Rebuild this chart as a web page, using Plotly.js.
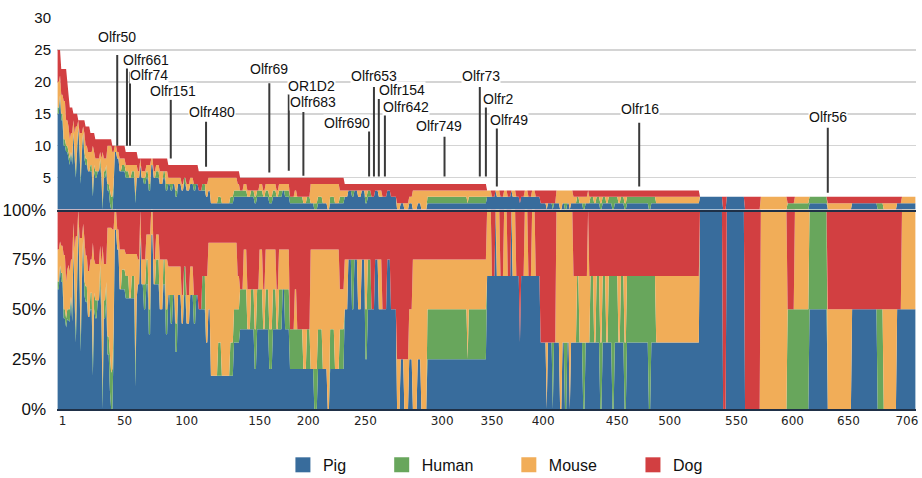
<!DOCTYPE html>
<html><head><meta charset="utf-8">
<script src="https://cdn.plot.ly/plotly-3.0.1.min.js"></script>
<style>html,body{margin:0;padding:0;background:#fff}#chart{width:922px;height:478px}</style>
</head><body><div id="chart"></div>
<script>
// Each segment starts at segStart[i] and runs until the next start (counts per species)
const segStart = [
  1,3,4,6,8,9,10,11,12,13,
  14,15,16,17,18,19,20,21,22,23,
  24,26,28,30,31,32,34,36,37,38,
  39,41,42,44,45,46,47,48,50,52,
  54,57,60,62,65,66,67,69,70,72,
  74,76,78,80,82,85,88,90,92,94,
  96,98,100,103,105,107,110,113,115,117,
  120,123,125,127,130,133,136,143,146,149,
  151,154,157,160,163,165,167,170,172,175,
  178,181,183,186,188,192,196,198,203,206,
  209,212,215,219,223,225,229,233,237,240,
  243,245,248,251,254,256,259,262,265,268,
  272,275,280,283,286,290,293,297,300,305,
  338,339,354,358,361,362,365,368,371,374,
  375,378,381,382,385,388,391,394,398,403,
  404,408,409,411,414,416,418,420,422,423,
  425,428,430,433,435,437,438,439,442,444,
  447,449,452,454,457,459,462,464,467,469,
  472,487,489,493,529,548,551,566,579,601,
  607,619,634,654,675,680,691,695];
const lastIndex = 706;
const pig = [
  15,18,14,10,9,9,8,7,9,7,
  12,8,5,9,13,9,4,9,12,8,
  7,6,6,2,6,5,6,7,5,0,
  5,6,3,1,0,0,3,9,8,6,
  6,5,5,5,1,5,5,7,5,4,
  5,3,7,5,5,4,5,3,4,3,
  4,2,4,3,4,3,4,3,4,3,
  3,2,3,1,1,1,1,1,2,2,
  2,2,2,2,1,2,2,2,2,1,
  2,2,2,3,2,1,1,1,1,1,
  1,0,1,1,0,1,1,1,2,3,
  2,3,2,3,1,2,2,3,2,2,
  3,2,0,1,0,1,0,1,0,1,
  1,1,2,2,3,2,2,2,2,3,
  2,2,1,2,2,2,2,2,1,0,
  1,0,1,1,0,1,0,1,0,1,
  1,1,1,0,1,1,1,1,1,1,
  0,1,1,1,0,1,1,1,0,1,
  1,0,1,1,2,0,2,0,0,0,
  0,1,0,1,0,0,1,1];
const human = [
  1,0,1,1,1,1,1,1,0,1,
  0,1,1,1,0,1,1,1,0,1,
  1,0,1,1,1,1,0,1,1,1,
  1,1,1,2,2,2,1,0,0,0,
  1,1,0,1,1,0,0,0,0,1,
  1,1,0,0,1,0,1,1,0,1,
  0,1,0,0,1,0,0,1,0,0,
  1,0,0,0,0,1,0,1,1,1,
  1,1,0,1,1,1,1,0,1,1,
  1,0,1,0,1,1,1,1,0,1,
  0,1,1,0,0,1,0,1,0,0,
  1,0,0,0,1,1,0,0,0,0,
  0,0,0,0,0,0,0,0,0,1,
  0,1,0,0,0,0,0,0,0,0,
  0,0,0,0,0,0,0,0,0,0,
  0,1,0,0,0,0,1,0,0,0,
  0,1,0,1,0,0,0,1,0,1,
  1,1,0,1,2,1,0,1,1,1,
  1,2,1,0,0,0,0,0,0,1,
  1,1,0,0,1,0,0,0];
const mouse = [
  4,3,3,6,4,4,4,3,3,4,
  2,3,7,3,1,2,7,2,1,3,
  2,3,2,7,2,2,2,1,2,8,
  2,1,6,7,8,7,5,1,1,2,
  1,1,2,1,5,2,1,1,1,1,
  1,3,1,1,1,2,0,2,1,1,
  1,2,1,1,0,1,1,0,0,0,
  0,2,2,4,4,3,4,3,2,1,
  0,1,1,0,1,0,1,1,1,2,
  1,1,1,1,1,0,1,0,1,0,
  3,3,2,3,4,2,3,1,1,0,
  0,0,1,0,1,0,0,0,1,0,
  0,0,1,0,1,1,3,2,3,1,
  2,1,1,0,0,1,0,1,0,0,
  1,0,0,0,1,0,1,0,0,1,
  0,0,0,2,3,2,2,2,3,2,
  1,0,1,1,1,2,1,0,1,0,
  1,0,1,0,0,0,1,0,1,0,
  0,0,0,1,0,0,0,0,2,0,
  1,0,1,0,0,1,0,1];
const dog = [
  5,4,4,5,8,6,5,5,4,4,
  1,3,2,2,0,2,2,2,1,2,
  3,4,3,2,3,3,3,2,3,2,
  3,3,1,1,1,1,1,0,1,2,
  2,2,2,2,2,2,2,0,2,2,
  1,1,0,2,1,2,2,2,2,2,
  2,2,2,3,2,3,2,3,3,3,
  2,2,1,1,1,1,1,1,1,2,
  2,1,2,2,2,2,1,2,1,1,
  1,2,1,1,1,3,2,3,3,3,
  1,1,1,1,1,1,1,2,1,1,
  1,1,1,1,1,1,2,1,1,2,
  1,2,3,3,3,2,1,1,1,1,
  1,1,0,1,0,0,1,0,1,0,
  0,1,2,1,0,1,0,1,2,2,
  2,2,2,0,0,0,0,0,0,0,
  1,1,1,1,1,0,1,1,1,1,
  1,1,1,1,1,1,1,1,1,1,
  1,1,1,1,0,2,0,2,0,1,
  0,0,1,1,1,1,1,0];
const seriesNames = ['Pig','Human','Mouse','Dog'];
const seriesColors = ['#386c9c','#68a65c','#f1ad58','#d23f41'];
const xTickPos = [5,56,107,167,207,254,317,358,400,461,504,559,605,651,699];
const xTickText = ['1','50','100','150','200','250','300','350','400','450','500','550','600','650','706'];
const countTicks = [5,10,15,20,25,30];
const pctTicks = [0,25,50,75,100];
const pctTickText = ['0%','25%','50%','75%','100%'];
// labelled genes: position on x, top of stack where its leader line ends
const geneNames = ['Olfr50','Olfr661','Olfr74','Olfr151','Olfr480','Olfr69','OR1D2','Olfr683','Olfr690','Olfr653','Olfr154','Olfr642','Olfr749','Olfr73','Olfr2','Olfr49','Olfr16','Olfr56'];
const geneX = [50,58,60.5,94,123,175,191,203,257,261,265,270,319,348,353,362,479,634];
const geneLineEnd = [10,10,10,8,6.7,5.8,6.1,5.3,5.2,5.2,5.2,5.2,5.2,5.2,5.2,3.6,3.6,2.65];
// label placement (layout only)
const labelPlace = [
  {lx:50,ly:27.0,top:24.2},{lx:73.6,ly:23.4,top:22.2},{lx:76.1,ly:21.0,top:21.6},{lx:95.8,ly:18.6,top:17.2},
  {lx:127.9,ly:15.3,top:13.75},{lx:174.8,ly:22.0,top:19.8},{lx:209.6,ly:19.4,top:18.1},{lx:211.3,ly:16.9,top:15.3},
  {lx:238.8,ly:13.6,top:12.7},{lx:261.1,ly:20.9,top:19.2},{lx:284.1,ly:18.75,top:17.3},{lx:287.4,ly:16.05,top:15.2},
  {lx:314.5,ly:13.1,top:11.4},{lx:348.6,ly:20.9,top:19.2},{lx:363.4,ly:17.3,top:16.1},{lx:371.6,ly:14.06,top:12.8},
  {lx:479.7,ly:15.8,top:13.6},{lx:634.3,ly:14.5,top:12.8}];
const legendX = [0.263,0.378,0.526,0.6705];

// run-length step data -> points at each segment's first and last index
const segEnd = segStart.map((s,i)=>(i+1<segStart.length ? segStart[i+1] : lastIndex+1) - 1);
const xs = [];
segStart.forEach((s,i)=>{ xs.push(s); if(segEnd[i]>s) xs.push(segEnd[i]); });
const expand = a => {
  const out=[];
  segStart.forEach((s,i)=>{ out.push(a[i]); if(segEnd[i]>s) out.push(a[i]); });
  return out;
};
const series = [pig, human, mouse, dog];
const traces = [];
series.forEach((s,i)=>{
  traces.push({type:'scatter',x:xs,y:expand(s),xaxis:'x2',yaxis:'y',stackgroup:'cnt',mode:'none',
    line:{shape:'linear',width:0},fillcolor:seriesColors[i],name:seriesNames[i],showlegend:false,hoverinfo:'skip'});
});
series.forEach((s,i)=>{
  const t={type:'scatter',x:xs,y:expand(s),xaxis:'x',yaxis:'y2',stackgroup:'pct',mode:'none',
    line:{shape:'linear',width:0},fillcolor:seriesColors[i],name:seriesNames[i],showlegend:false,hoverinfo:'skip'};
  if(i===0) t.groupnorm='percent';
  traces.push(t);
});
const legendIds = ['legend','legend2','legend3','legend4'];
series.forEach((s,i)=>{
  traces.push({type:'scatter',x:[null],y:[null],xaxis:'x',yaxis:'y2',mode:'markers',
    marker:{symbol:'square',size:15,color:seriesColors[i]},name:seriesNames[i],showlegend:true,legend:legendIds[i]});
});

const shapes = geneNames.map((g,i)=>({type:'line',xref:'x2',yref:'y',x0:geneX[i],x1:geneX[i],
  y0:geneLineEnd[i],y1:labelPlace[i].top,line:{color:'#3a3a3a',width:2}}));
const annotations = geneNames.map((g,i)=>({xref:'x2',yref:'y',x:labelPlace[i].lx,y:labelPlace[i].ly,
  text:g,showarrow:false,bgcolor:'rgba(255,255,255,1)',borderpad:0,
  font:{family:'Liberation Sans, Arial, sans-serif',size:14,color:'#111'}}));

const layout = {
  width:922,height:478,
  margin:{l:57,r:6,t:18,b:69,autoexpand:false},
  paper_bgcolor:'#fff',plot_bgcolor:'#fff',
  showlegend:true,
  xaxis:{anchor:'y2',range:[0.5,706.5],tickmode:'array',tickvals:xTickPos,ticktext:xTickText,
    showline:true,linecolor:'#1f3047',linewidth:2,showgrid:false,zeroline:false,ticks:'',
    tickfont:{family:'DejaVu Sans, sans-serif',size:12,color:'#222'}},
  xaxis2:{anchor:'y',matches:'x',showticklabels:false,showline:true,linecolor:'#1f3047',linewidth:2,
    showgrid:false,zeroline:false,ticks:''},
  yaxis:{domain:[0.51,1],range:[0,30],tickmode:'array',tickvals:countTicks,
    showgrid:true,gridcolor:'#d4d4d4',gridwidth:1.5,zeroline:false,ticks:'',ticklabelstandoff:5,
    tickfont:{family:'Liberation Sans, Arial, sans-serif',size:15,color:'#111'}},
  yaxis2:{domain:[0,0.51],range:[0,100],tickmode:'array',tickvals:pctTicks,ticktext:pctTickText,
    showgrid:false,zeroline:false,ticks:'',ticklabelstandoff:10,
    tickfont:{family:'Liberation Sans, Arial, sans-serif',size:17,color:'#111'}},
  shapes:shapes,
  annotations:annotations
};
legendIds.forEach((id,i)=>{
  layout[id]={orientation:'h',x:legendX[i],xanchor:'left',y:-0.143,yanchor:'middle',
    bgcolor:'rgba(0,0,0,0)',font:{family:'Liberation Sans, Arial, sans-serif',size:16,color:'#111'}};
});
Plotly.newPlot('chart',traces,layout,{staticPlot:true});
</script></body></html>
